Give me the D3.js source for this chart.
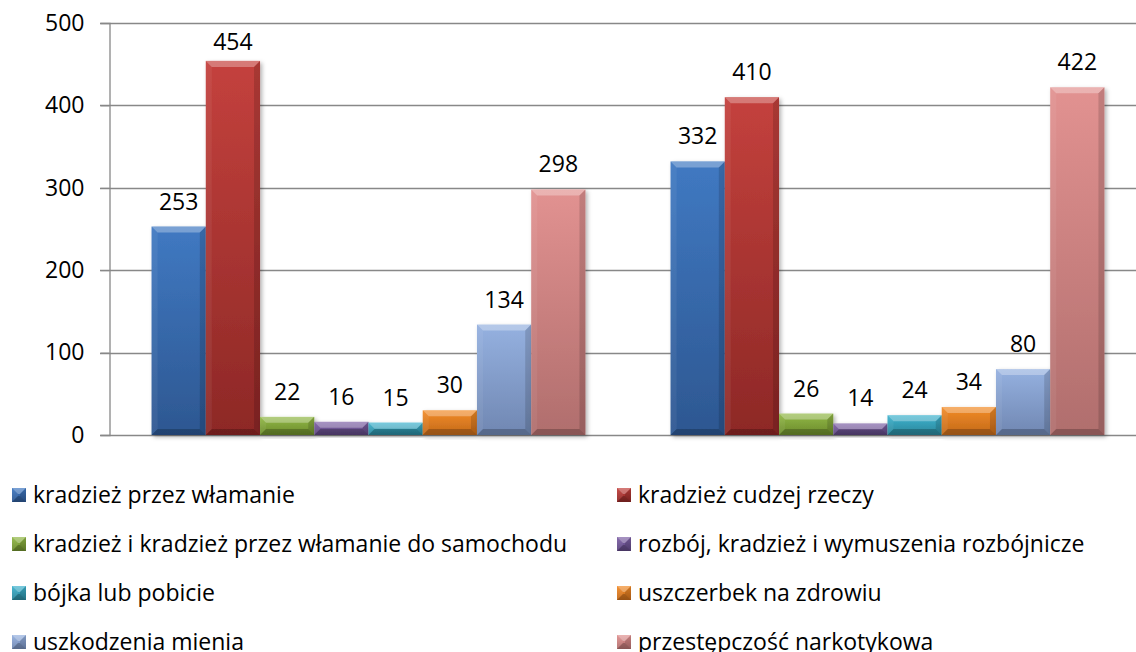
<!DOCTYPE html>
<html>
<head>
<meta charset="utf-8">
<script src="https://cdn.jsdelivr.net/npm/d3@7"></script>
<style>
  html, body { margin: 0; padding: 0; background: #fff; }
  svg text { font-family: "Open Sans", "Noto Sans", sans-serif; fill: #000; }
</style>
</head>
<body>
<svg id="chart" width="1136" height="652"></svg>
<script>
// two groups, no category labels on the axis
const groups = ['g1', 'g2'];
const seriesNames = [
  'kradzież przez włamanie',
  'kradzież cudzej rzeczy',
  'kradzież i kradzież przez włamanie do samochodu',
  'rozbój, kradzież i wymuszenia rozbójnicze',
  'bójka lub pobicie',
  'uszczerbek na zdrowiu',
  'uszkodzenia mienia',
  'przestępczość narkotykowa',
];
const seriesValues = [
  [253, 332],
  [454, 410],
  [22, 26],
  [16, 14],
  [15, 24],
  [30, 34],
  [134, 80],
  [298, 422],
];
const yTicks = [0, 100, 200, 300, 400, 500];

// top / bottom shade of every series
const colorsTop = ['#4079c2', '#c4413d', '#92b946', '#8063a8', '#3eb3cf', '#f38c28', '#95b1e0', '#e29291'];
const colorsBottom = ['#2d5791', '#8d2826', '#6b8a2c', '#5c457e', '#2a8599', '#c2691a', '#7087b2', '#b06e6d'];

const PLOT_LEFT = 109;
const PLOT_RIGHT = 1147; // cut off by the picture edge
const PLOT_TOP = 23;
const PLOT_BOTTOM = 435;
const BEVEL = 6;
const FONT_SIZE = 23;

const svg = d3.select('#chart');
const defs = svg.append('defs');

colorsTop.forEach((c, i) => {
  const g = defs.append('linearGradient')
    .attr('id', `grad${i}`)
    .attr('x1', 0).attr('y1', 0).attr('x2', 0).attr('y2', 1);
  g.append('stop').attr('offset', '0%').attr('stop-color', c);
  g.append('stop').attr('offset', '100%').attr('stop-color', colorsBottom[i]);
});

const shadow = defs.append('filter')
  .attr('id', 'shadow')
  .attr('x', '-20%').attr('y', '-20%').attr('width', '140%').attr('height', '140%');
shadow.append('feDropShadow')
  .attr('dx', 2).attr('dy', 2).attr('stdDeviation', 2)
  .attr('flood-color', '#000').attr('flood-opacity', 0.3);

const y = d3.scaleLinear().domain([0, 500]).range([PLOT_BOTTOM, PLOT_TOP]);
const x0 = d3.scaleBand().domain(groups).range([PLOT_LEFT, PLOT_RIGHT])
  .paddingInner(0.164).paddingOuter(0.082);
const x1 = d3.scaleBand().domain(d3.range(seriesNames.length)).range([0, x0.bandwidth()]);

// gridlines
svg.append('g')
  .selectAll('line')
  .data(yTicks)
  .join('line')
  .attr('x1', PLOT_LEFT - 9)
  .attr('x2', PLOT_RIGHT)
  .attr('y1', d => Math.round(y(d)) + 0.5)
  .attr('y2', d => Math.round(y(d)) + 0.5)
  .attr('stroke', '#888')
  .attr('stroke-width', 1.3);

// y axis
const yAxis = d3.axisLeft(y)
  .tickValues(yTicks)
  .tickSize(9)
  .tickPadding(16)
  .tickFormat(d3.format('d'));
const axisG = svg.append('g')
  .attr('transform', `translate(${PLOT_LEFT + 0.5},0)`)
  .call(yAxis);
axisG.select('.domain').attr('stroke', '#888').attr('stroke-width', 1.3);
axisG.selectAll('.tick line').attr('stroke', '#888');
axisG.selectAll('.tick text')
  .attr('font-size', FONT_SIZE)
  .style('font-family', '"Open Sans", sans-serif')
  .attr('fill', '#000');

function bevelBox(sel, bx, by, w, h, i) {
  const b = Math.min(BEVEL, h / 2, w / 2);
  sel.append('rect')
    .attr('x', bx).attr('y', by).attr('width', w).attr('height', h)
    .attr('fill', `url(#grad${i})`);
  const faces = [
    { pts: [[bx, by], [bx + w, by], [bx + w - b, by + b], [bx + b, by + b]], fill: '#fff', op: 0.3 },
    { pts: [[bx, by], [bx + b, by + b], [bx + b, by + h - b], [bx, by + h]], fill: '#fff', op: 0.06 },
    { pts: [[bx + w, by], [bx + w - b, by + b], [bx + w - b, by + h - b], [bx + w, by + h]], fill: '#000', op: 0.14 },
    { pts: [[bx, by + h], [bx + b, by + h - b], [bx + w - b, by + h - b], [bx + w, by + h]], fill: '#000', op: 0.22 },
  ];
  faces.forEach(f => {
    sel.append('polygon')
      .attr('points', f.pts.map(p => p.join(',')).join(' '))
      .attr('fill', f.fill)
      .attr('fill-opacity', f.op);
  });
}

// bars
const barData = [];
seriesValues.forEach((vals, i) => {
  vals.forEach((v, j) => barData.push({ series: i, group: groups[j], value: v }));
});

const bars = svg.append('g').attr('class', 'bars');
barData.forEach(d => {
  const bx = x0(d.group) + x1(d.series);
  const by = y(d.value);
  const g = bars.append('g').attr('filter', 'url(#shadow)');
  bevelBox(g, bx, by, x1.bandwidth(), y(0) - by, d.series);
});

// data labels
svg.append('g')
  .selectAll('text')
  .data(barData)
  .join('text')
  .attr('x', d => x0(d.group) + x1(d.series) + x1.bandwidth() / 2)
  .attr('y', d => Math.max(y(d.value) - 17, 50))
  .attr('text-anchor', 'middle')
  .attr('font-size', FONT_SIZE)
  .text(d => d.value);

// legend, two columns
const legendCols = [12, 617];
const legendTop = 495;
const legendStep = 49;
const legend = svg.append('g').attr('class', 'legend');
seriesNames.forEach((name, i) => {
  const col = i % 2;
  const row = Math.floor(i / 2);
  const cy = legendTop + row * legendStep;
  const g = legend.append('g');
  bevelBox(g, legendCols[col], cy - 7, 14, 14, i);
  g.append('text')
    .attr('x', legendCols[col] + 21)
    .attr('y', cy)
    .attr('dy', '0.35em')
    .attr('font-size', FONT_SIZE)
    .text(name);
});
</script>
</body>
</html>
